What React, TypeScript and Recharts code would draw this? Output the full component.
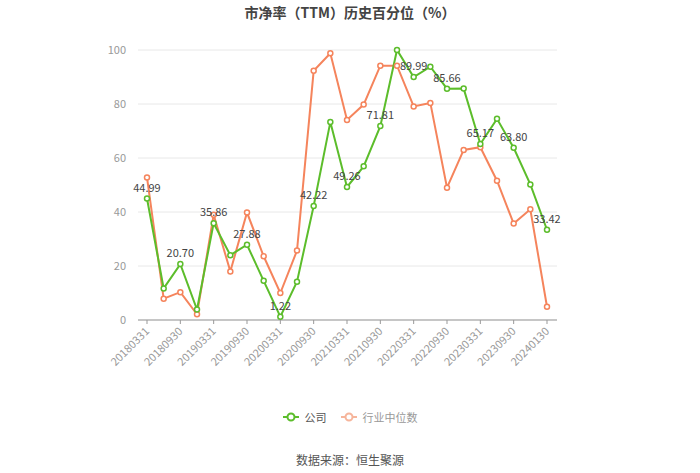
import { LineChart, Line, XAxis, YAxis, CartesianGrid, LabelList } from "recharts";

const dates = [
    "20180331", "20180630", "20180930", "20181231",
    "20190331", "20190630", "20190930", "20191231",
    "20200331", "20200630", "20200930", "20201231",
    "20210331", "20210630", "20210930", "20211231",
    "20220331", "20220630", "20220930", "20221231",
    "20230331", "20230630", "20230930", "20231231",
    "20240130",
];

const company = [
    44.99, 11.7, 20.7, 3.9, 35.86, 24.0, 27.88, 14.5, 1.22, 14.2,
    42.22, 73.3, 49.26, 56.9, 71.81, 100, 89.99, 93.8, 85.66, 85.7,
    65.17, 74.5, 63.8, 50.2, 33.42,
];

const industry = [
    52.8, 7.9, 10.3, 2.1, 39.0, 18.0, 39.8, 23.6, 10.0, 25.7,
    92.3, 98.8, 74.1, 79.8, 94.2, 94.2, 79.1, 80.4, 49.0, 63.0,
    64.0, 51.6, 35.7, 41.0, 4.9,
];

const yTicks = [0, 20, 40, 60, 80, 100];

const GREEN = "#5cbd2b";
const ORANGE = "#f5845c";
const FONT = "'Noto Sans CJK SC', 'Noto Sans', sans-serif";

const data = dates.map((d, i) => ({ date: d, company: company[i], industry: industry[i] }));

function XTick(props: any) {
    const { x, y, payload } = props;
    return (
        <text
            x={x + 3}
            y={y + 6}
            transform={`rotate(-45, ${x + 3}, ${y + 6})`}
            textAnchor="end"
            fontSize={11}
            fill="#999"
            fontFamily={FONT}
        >
            {payload.value}
        </text>
    );
}

function PointLabel(props: any) {
    const { x, y, index } = props;
    if (index % 2 !== 0) return null;
    return (
        <text x={x} y={y - 7} textAnchor="middle" fontSize={11} fill="#444" fontFamily={FONT}>
            {company[index].toFixed(2)}
        </text>
    );
}

function LegendIcon({ color }: { color: string }) {
    return (
        <svg width={16} height={10} style={{ marginRight: 6 }}>
            <line x1={0} y1={5} x2={16} y2={5} stroke={color} strokeWidth={2} />
            <circle cx={8} cy={5} r={3.5} fill="#fff" stroke={color} strokeWidth={2} />
        </svg>
    );
}

export default function App() {
    return (
        <div style={{ position: "absolute", left: 0, top: 0, width: 700, height: 473, background: "#fff", fontFamily: FONT }}>
            <div style={{ position: "absolute", top: 2, width: 700, textAlign: "center", fontSize: 14, fontWeight: "bold", color: "#444" }}>
                市净率（TTM）历史百分位（%）
            </div>
            <LineChart width={700} height={400} data={data} margin={{ top: 50, right: 143, left: 0, bottom: 20 }}>
                <CartesianGrid vertical={false} stroke="#e8e8e8" />
                <XAxis
                    dataKey="date"
                    interval={1}
                    height={60}
                    padding={{ left: 9, right: 10 }}
                    stroke="#999"
                    tickSize={4}
                    tick={<XTick />}
                />
                <YAxis
                    domain={[0, 100]}
                    ticks={yTicks}
                    width={138}
                    axisLine={false}
                    tickLine={false}
                    tickMargin={6}
                    tick={{ fontSize: 11, fill: "#999", fontFamily: FONT }}
                />
                <Line
                    dataKey="industry"
                    stroke={ORANGE}
                    strokeWidth={2}
                    dot={{ r: 2.5, fill: "#fff", stroke: ORANGE, strokeWidth: 1.5 }}
                    isAnimationActive={false}
                />
                <Line
                    dataKey="company"
                    stroke={GREEN}
                    strokeWidth={2}
                    dot={{ r: 2.5, fill: "#fff", stroke: GREEN, strokeWidth: 1.5 }}
                    isAnimationActive={false}
                >
                    <LabelList dataKey="company" content={<PointLabel />} />
                </Line>
            </LineChart>
            <div style={{ position: "absolute", top: 409, width: 700, display: "flex", justifyContent: "center", alignItems: "center", fontSize: 11 }}>
                <span style={{ display: "flex", alignItems: "center", color: "#555", marginRight: 14 }}>
                    <LegendIcon color={GREEN} />公司
                </span>
                <span style={{ display: "flex", alignItems: "center", color: "#999" }}>
                    <LegendIcon color="#f6b59b" />行业中位数
                </span>
            </div>
            <div style={{ position: "absolute", top: 451, width: 700, textAlign: "center", fontSize: 12, color: "#555" }}>
                数据来源：恒生聚源
            </div>
        </div>
    );
}
